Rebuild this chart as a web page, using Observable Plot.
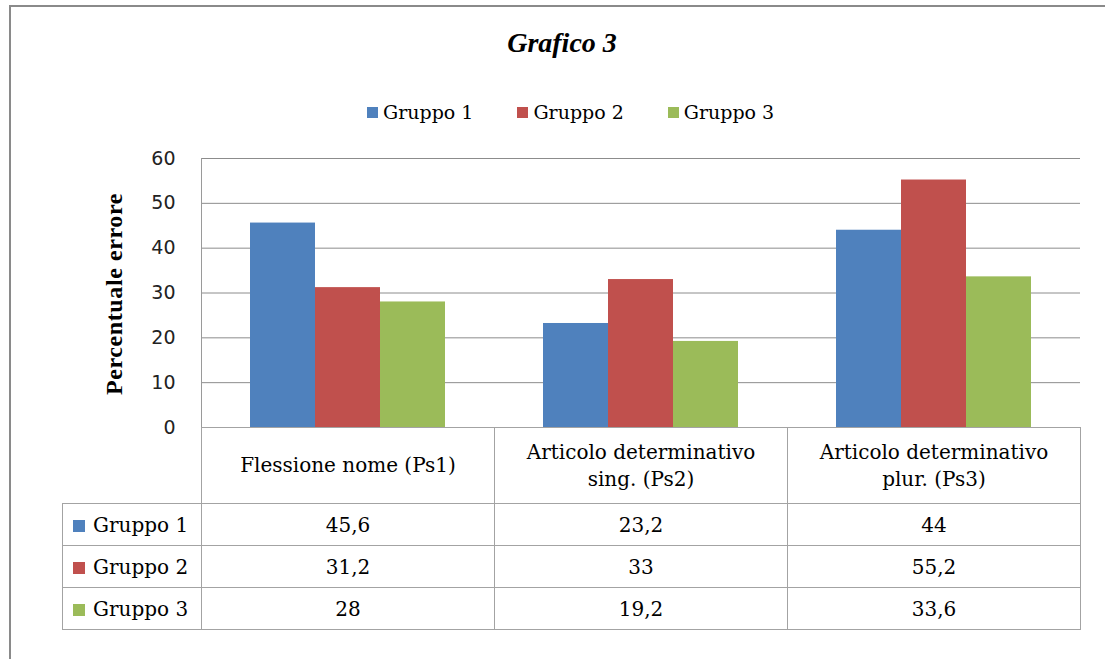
<!DOCTYPE html>
<html>
<head>
<meta charset="utf-8">
<script src="https://cdn.jsdelivr.net/npm/d3@7"></script>
<script src="https://cdn.jsdelivr.net/npm/@observablehq/plot@0.6"></script>
<style>
  html, body { margin: 0; padding: 0; background: #fff; }
  #root { position: relative; width: 1105px; height: 659px; overflow: hidden; background: #fff; }
  .frame-top { position: absolute; left: 9px; top: 5px; width: 1100px; height: 0; border-top: 2px solid #8a8a8a; }
  .frame-left { position: absolute; left: 9px; top: 5px; width: 0; height: 660px; border-left: 2px solid #8a8a8a; }
  #title { position: absolute; left: 562px; top: 27px; transform: translateX(-50%);
           font-family: "Liberation Serif", serif; font-weight: bold; font-style: italic;
           font-size: 28px; line-height: 32px; color: #000; white-space: nowrap; }
  #legend { position: absolute; left: 367px; top: 99px; display: flex; gap: 44px;
            font-family: "DejaVu Serif", serif; font-size: 19px; line-height: 26px; color: #000; }
  #legend .item { display: flex; align-items: center; white-space: nowrap; }
  #legend .sw { width: 11px; height: 11px; margin-right: 5px; }
  #plot { position: absolute; left: 0; top: 0; }
  #ylabel { position: absolute; left: 114px; top: 294px; transform: translate(-50%, -50%) rotate(-90deg);
            font-family: "Liberation Serif", serif; font-weight: bold; font-size: 24px; letter-spacing: 0.6px;
            color: #000; white-space: nowrap; }
  .axisline { position: absolute; left: 201px; top: 158px; width: 0; height: 270px; border-left: 1px solid #9a9a9a; }
  #table { position: absolute; left: 62px; top: 427px; border-collapse: collapse; table-layout: fixed;
           font-family: "DejaVu Serif", serif; font-size: 20px; color: #000; }
  #table td { border: 1px solid #a3a3a3; padding: 0; text-align: center; vertical-align: middle; }
  #table tr.head td { height: 75px; line-height: 27px; }
  #table tr.row td { height: 41px; }
  #table td.blank { border-top: none; border-left: none; }
  #table td.lab { text-align: left; padding-left: 10px; white-space: nowrap; }
  #table td.lab .sw { display: inline-block; width: 12px; height: 12px; margin-right: 8px; vertical-align: 0px; }
</style>
</head>
<body>
<div id="root">
  <div class="frame-top"></div>
  <div class="frame-left"></div>
  <div id="title"></div>
  <div id="legend"></div>
  <div id="plot"></div>
  <div class="axisline"></div>
  <div id="ylabel"></div>
  <table id="table"></table>
</div>
<script>
// ---- Data ----
const chartTitle = "Grafico 3";
const yLabel = "Percentuale errore";
const categories = ["Flessione nome (Ps1)", "Articolo determinativo sing. (Ps2)", "Articolo determinativo plur. (Ps3)"];
const groups = ["Gruppo 1", "Gruppo 2", "Gruppo 3"];
const gruppo1 = [45.6, 23.2, 44];
const gruppo2 = [31.2, 33, 55.2];
const gruppo3 = [28, 19.2, 33.6];
const colors = ["#4f81bd", "#c0504d", "#9bbb59"];
const yTicks = [0, 10, 20, 30, 40, 50, 60];

const series = [gruppo1, gruppo2, gruppo3];
const data = [];
categories.forEach((c, i) => groups.forEach((g, j) => data.push({category: c, group: g, value: series[j][i]})));
const fmt = v => String(v).replace(".", ",");

// ---- Title & legend ----
document.getElementById("title").textContent = chartTitle;
document.getElementById("ylabel").textContent = yLabel;
const legend = document.getElementById("legend");
groups.forEach((g, j) => {
  const it = document.createElement("div");
  it.className = "item";
  const sw = document.createElement("span");
  sw.className = "sw";
  sw.style.background = colors[j];
  it.appendChild(sw);
  it.appendChild(document.createTextNode(g));
  legend.appendChild(it);
});

// ---- Plot ----
const chart = Plot.plot({
  width: 1105,
  height: 440,
  marginTop: 158,
  marginBottom: 13,
  marginLeft: 201,
  marginRight: 25,
  style: {fontFamily: "DejaVu Sans, sans-serif", fontSize: "19px", color: "#222", background: "transparent"},
  fx: {domain: categories, padding: 0, axis: null},
  x: {domain: groups, paddingInner: 0, paddingOuter: 0.735, axis: null},
  y: {domain: [0, 60]},
  color: {domain: groups, range: colors},
  marks: [
    Plot.ruleY(yTicks, {stroke: "#8c8c8c", strokeWidth: 1}),
    Plot.barY(data, {fx: "category", x: "group", y: "value", fill: "group", inset: 0}),
    Plot.axisY({ticks: yTicks, tickSize: 0, tickPadding: 26, label: null, fontSize: 19, fill: "#222"})
  ]
});
document.getElementById("plot").appendChild(chart);

// ---- Data table ----
const table = document.getElementById("table");
const colg = document.createElement("colgroup");
[139, 293, 293, 293].forEach(w => { const c = document.createElement("col"); c.style.width = w + "px"; colg.appendChild(c); });
table.appendChild(colg);
const head = document.createElement("tr");
head.className = "head";
const blank = document.createElement("td");
blank.className = "blank";
head.appendChild(blank);
categories.forEach(c => {
  const td = document.createElement("td");
  td.textContent = c;
  td.style.padding = "0 26px";
  head.appendChild(td);
});
table.appendChild(head);
groups.forEach((g, j) => {
  const tr = document.createElement("tr");
  tr.className = "row";
  const lab = document.createElement("td");
  lab.className = "lab";
  const sw = document.createElement("span");
  sw.className = "sw";
  sw.style.background = colors[j];
  lab.appendChild(sw);
  lab.appendChild(document.createTextNode(g));
  tr.appendChild(lab);
  series[j].forEach(v => {
    const td = document.createElement("td");
    td.textContent = fmt(v);
    tr.appendChild(td);
  });
  table.appendChild(tr);
});
</script>
</body>
</html>
